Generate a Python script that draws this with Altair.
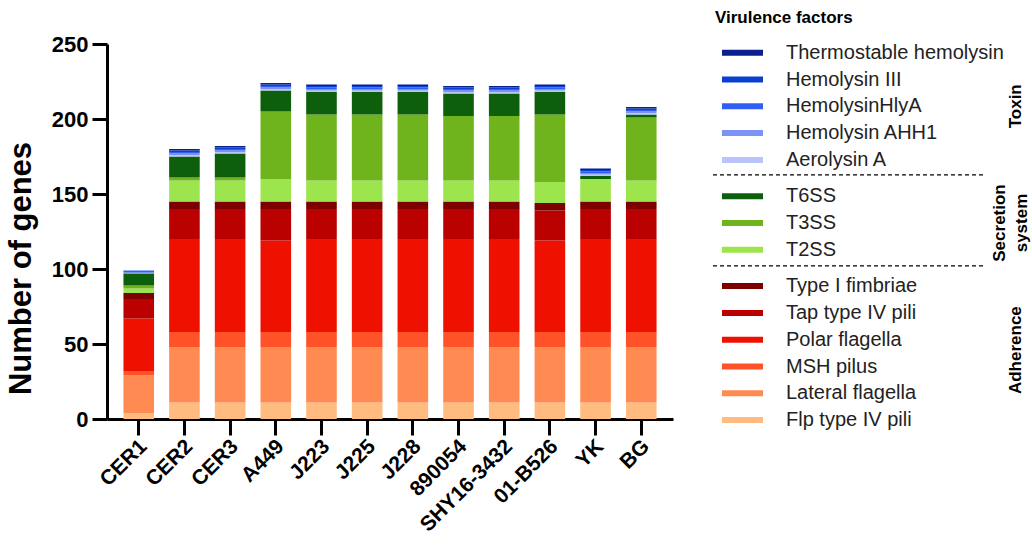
import altair as alt
import pandas as pd

# Strains on the x axis
strains = ["CER1", "CER2", "CER3", "A449", "J223", "J225", "J228",
           "890054", "SHY16-3432", "01-B526", "YK", "BG"]

# Adherence genes per strain
flp_type_iv_pili = [4, 11, 11, 11, 11, 11, 11, 11, 11, 11, 11, 11]
lateral_flagella = [25, 37, 37, 37, 37, 37, 37, 37, 37, 37, 37, 37]
msh_pilus = [3, 10, 10, 10, 10, 10, 10, 10, 10, 10, 10, 10]
polar_flagella = [35, 62, 62, 61, 62, 62, 62, 62, 62, 61, 62, 62]
tap_type_iv_pili = [13, 20, 20, 21, 20, 20, 20, 20, 20, 20, 20, 20]
type_i_fimbriae = [4, 5, 5, 5, 5, 5, 5, 5, 5, 5, 5, 5]

# Secretion system genes per strain
t2ss = [3, 14, 14, 15, 14, 14, 14, 14, 14, 14, 15, 14]
t3ss = [2, 2, 2, 45, 44, 44, 44, 43, 43, 45, 0, 42]
t6ss = [8, 14, 16, 14, 15, 15, 15, 15, 15, 15, 2, 2]

# Toxin genes per strain
aerolysin_a = [0, 1, 1, 1, 1, 1, 1, 1, 1, 1, 1, 1]
hemolysin_ahh1 = [1, 1, 1, 1, 1, 1, 1, 1, 1, 1, 1, 1]
hemolysin_hlya = [1, 1, 1, 1, 1, 1, 1, 1, 1, 1, 1, 1]
hemolysin_iii = [0, 1, 1, 1, 1, 1, 1, 1, 1, 1, 1, 1]
thermostable_hemolysin = [0, 1, 1, 1, 1, 1, 1, 1, 1, 1, 1, 1]

# Stack order, bottom to top
factors = ["Flp type IV pili", "Lateral flagella", "MSH pilus", "Polar flagella",
           "Tap type IV pili", "Type I fimbriae", "T2SS", "T3SS", "T6SS",
           "Aerolysin A", "Hemolysin AHH1", "HemolysinHlyA", "Hemolysin III",
           "Thermostable hemolysin"]
series = [flp_type_iv_pili, lateral_flagella, msh_pilus, polar_flagella,
          tap_type_iv_pili, type_i_fimbriae, t2ss, t3ss, t6ss,
          aerolysin_a, hemolysin_ahh1, hemolysin_hlya, hemolysin_iii,
          thermostable_hemolysin]
colors = ["#ffbb80", "#ff8b52", "#ff5229", "#ef1100", "#bb0000", "#7c0000",
          "#9de54c", "#6fb31d", "#0e5f0b",
          "#b9c5fa", "#7b93f2", "#2f5ff5", "#0a3fd0", "#0b1f8f"]
groups = ["Adherence"] * 6 + ["Secretion system"] * 3 + ["Toxin"] * 5

FONT = "Liberation Sans"
PLOT_W = 566      # width of the bar area
TOTAL_W = 922     # bar area plus the legend column
H = 375

rows = []
for i, (name, vals) in enumerate(zip(factors, series)):
    for s, v in zip(strains, vals):
        rows.append({"strain": s, "factor": name, "genes": v, "stack": i})
df = pd.DataFrame(rows)

color_scale = alt.Scale(domain=factors, range=colors)

bars = alt.Chart(df).mark_bar().encode(
    x=alt.X("strain:N", sort=strains,
            scale=alt.Scale(range=[0, PLOT_W], paddingInner=0.33, paddingOuter=0.36),
            axis=alt.Axis(title=None, labelAngle=315, labelAlign="right",
                          labelBaseline="middle", labelFontSize=21,
                          labelFontWeight="bold", labelColor="black",
                          labelPadding=8, labelOffset=5, tickSize=16, tickWidth=3,
                          tickColor="black", domainColor="black", domainWidth=3)),
    y=alt.Y("genes:Q", stack="zero",
            scale=alt.Scale(domain=[0, 250], nice=False),
            axis=alt.Axis(title="Number of genes", values=[0, 50, 100, 150, 200, 250],
                          titleFontSize=31, titleFontWeight="bold", titleColor="black",
                          titlePadding=14, titleY=224, labelFontSize=22,
                          labelFontWeight="bold", labelColor="black", labelPadding=4,
                          tickSize=15, tickWidth=3, tickColor="black",
                          domainColor="black", domainWidth=3, grid=False)),
    color=alt.Color("factor:N", scale=color_scale, legend=None),
    order=alt.Order("stack:Q", sort="ascending"),
)

# Legend column: rows listed top to bottom, with a gap between groups
leg_rows = []
group_order = ["Toxin", "Secretion system", "Adherence"]
for k, name in enumerate(reversed(factors)):
    g = group_order.index(groups[factors.index(name)])
    leg_rows.append({"factor": name, "ly": 8.7 + 26.8 * k + 9.5 * g,
                     "sx0": 615, "sx1": 656, "tx": 679})
leg_df = pd.DataFrame(leg_rows)

lx = alt.Scale(domain=[0, TOTAL_W], nice=False, zero=False)
ly = alt.Scale(domain=[0, H], nice=False, zero=False, reverse=True)

swatches = alt.Chart(leg_df).mark_rule(strokeWidth=6).encode(
    x=alt.X("sx0:Q", scale=lx, axis=None),
    x2="sx1:Q",
    y=alt.Y("ly:Q", scale=ly, axis=None),
    color=alt.Color("factor:N", scale=color_scale, legend=None),
)
labels = alt.Chart(leg_df).mark_text(
    align="left", baseline="middle", fontSize=20, font=FONT, color="#222222"
).encode(
    x=alt.X("tx:Q", scale=lx, axis=None),
    y=alt.Y("ly:Q", scale=ly, axis=None),
    text="factor:N",
)

ly_vals = list(leg_df["ly"])
sep_df = pd.DataFrame({"y": [ly_vals[4] + 15, ly_vals[7] + 16],
                       "x0": [606, 606], "x1": [878, 878]})
separators = alt.Chart(sep_df).mark_rule(
    strokeDash=[4, 3], strokeWidth=1.3, color="black"
).encode(
    x=alt.X("x0:Q", scale=lx, axis=None),
    x2="x1:Q",
    y=alt.Y("y:Q", scale=ly, axis=None),
)

head_df = pd.DataFrame({"text": ["Virulence factors"], "x": [608], "y": [-26]})
heading = alt.Chart(head_df).mark_text(
    align="left", baseline="middle", fontSize=17, fontWeight="bold",
    font=FONT, color="black"
).encode(
    x=alt.X("x:Q", scale=lx, axis=None),
    y=alt.Y("y:Q", scale=ly, axis=None),
    text="text:N",
)

grp_df = pd.DataFrame({
    "text": ["Toxin", "Secretion", "system", "Adherence"],
    "x": [909, 893, 915, 909],
    "y": [sum(ly_vals[0:5]) / 5, sum(ly_vals[5:8]) / 3,
          sum(ly_vals[5:8]) / 3, sum(ly_vals[8:14]) / 6 - 3],
})
group_labels = alt.Chart(grp_df).mark_text(
    angle=270, align="center", baseline="middle", fontSize=17,
    fontWeight="bold", font=FONT, color="black"
).encode(
    x=alt.X("x:Q", scale=lx, axis=None),
    y=alt.Y("y:Q", scale=ly, axis=None),
    text="text:N",
)

chart = alt.layer(
    bars, swatches, labels, separators, heading, group_labels
).resolve_scale(
    x="independent", y="independent"
).properties(
    width=TOTAL_W, height=H,
    autosize=alt.AutoSizeParams(type="none"),
    padding={"left": 107, "top": 44, "right": 3, "bottom": 135},
).configure(
    font=FONT,
    view=alt.ViewConfig(stroke="transparent", strokeWidth=0),
)

chart.save("out.html", embed_options={"renderer": "svg", "actions": False})
